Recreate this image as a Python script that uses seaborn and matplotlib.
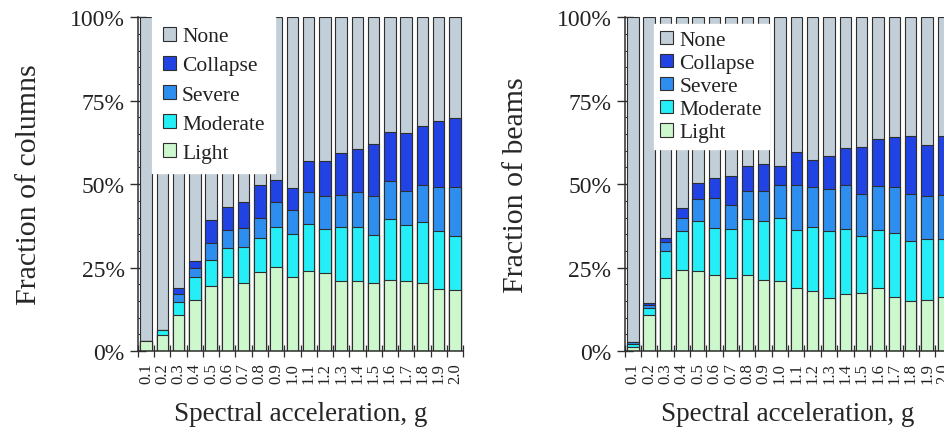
import numpy as np
import matplotlib
matplotlib.use('Agg')
import matplotlib.pyplot as plt
import seaborn as sns
from matplotlib.patches import Patch
from matplotlib.ticker import PercentFormatter, MultipleLocator, FixedLocator

# Spectral acceleration bins (g)
sa_labels = ['0.1', '0.2', '0.3', '0.4', '0.5', '0.6', '0.7', '0.8', '0.9', '1.0',
             '1.1', '1.2', '1.3', '1.4', '1.5', '1.6', '1.7', '1.8', '1.9', '2.0']

# Damage state shares, percent of elements (None = the remainder)
light_cols = [3.0, 4.8, 10.9, 15.4, 19.5, 22.3, 20.5, 23.8, 25.1, 22.3,
              24.0, 23.5, 21.1, 21.1, 20.3, 21.4, 21.1, 20.3, 18.7, 18.4]
moderate_cols = [0.0, 1.5, 3.9, 6.7, 7.9, 8.5, 10.7, 10.2, 12.2, 12.9,
                 14.1, 13.1, 16.0, 16.0, 14.4, 18.1, 16.7, 18.5, 17.4, 16.2]
severe_cols = [0.0, 0.0, 2.3, 2.8, 5.0, 5.4, 5.7, 5.9, 7.2, 7.0,
               9.4, 9.7, 9.5, 10.4, 11.6, 11.3, 10.1, 10.8, 12.9, 14.4]
collapse_cols = [0.0, 0.0, 1.7, 2.2, 6.9, 6.9, 7.6, 9.7, 6.6, 6.6,
                 9.5, 10.6, 12.6, 13.0, 15.7, 14.7, 17.5, 17.8, 19.8, 20.9]

light_beams = [1.3, 10.8, 21.9, 24.4, 24.0, 22.7, 21.9, 22.8, 21.4, 20.9,
               19.0, 18.0, 15.8, 17.1, 17.5, 19.0, 16.2, 15.1, 15.3, 16.3]
moderate_beams = [0.9, 2.0, 8.1, 11.6, 15.0, 14.1, 14.7, 16.9, 17.7, 19.1,
                  17.4, 19.3, 20.3, 19.5, 17.0, 17.3, 19.2, 18.0, 18.3, 17.2]
severe_beams = [0.6, 0.9, 2.8, 3.8, 6.6, 8.9, 7.1, 8.2, 8.8, 9.7,
                13.2, 11.9, 12.3, 13.0, 12.6, 13.0, 13.8, 13.9, 12.8, 13.2]
collapse_beams = [0.0, 0.8, 1.2, 2.9, 4.6, 6.0, 8.7, 7.6, 8.0, 5.6,
                  10.1, 8.1, 10.1, 11.1, 14.0, 14.1, 14.9, 17.3, 15.4, 17.7]

states = ['None', 'Collapse', 'Severe', 'Moderate', 'Light']
colors = {'None': '#c2ced8', 'Collapse': '#2243e3', 'Severe': '#2e8ef0',
          'Moderate': '#25eef6', 'Light': '#cdf7cc'}
edge = '#2e2e2e'

sns.set_style('ticks')
plt.rcParams['font.family'] = ['Liberation Serif', 'DejaVu Serif']
plt.rcParams['text.color'] = '#222222'


def stacked(ax, light, moderate, severe, collapse, ylabel, legend_anchor, spacing, pad):
    parts = np.array([light, moderate, severe, collapse]) / 100.0
    cum = np.cumsum(parts, axis=0)
    # tallest first, each cumulative level drawn over the previous one
    tops = {'None': np.ones(len(sa_labels)), 'Collapse': cum[3],
            'Severe': cum[2], 'Moderate': cum[1], 'Light': cum[0]}
    for s in states:
        sns.barplot(x=sa_labels, y=tops[s], color=colors[s], width=0.7,
                    edgecolor=edge, linewidth=0.8, saturation=1, ax=ax)

    ax.set_xlim(-0.5, len(sa_labels) - 0.5)
    ax.set_ylim(0, 1)
    ax.yaxis.set_major_locator(MultipleLocator(0.25))
    ax.yaxis.set_minor_locator(MultipleLocator(0.05))
    ax.yaxis.set_major_formatter(PercentFormatter(1.0, decimals=0))
    ax.tick_params(axis='y', which='major', direction='inout', length=12,
                   width=1, labelsize=17, colors=edge, labelcolor='#222222')
    ax.tick_params(axis='y', which='minor', direction='in', length=5,
                   width=0.8, colors=edge)
    # labels under the bars, tick marks between the bars
    ax.xaxis.set_minor_locator(FixedLocator(np.arange(-0.5, len(sa_labels), 1.0)))
    ax.tick_params(axis='x', which='major', length=0, labelsize=12,
                   labelrotation=90, pad=8, labelcolor='#222222')
    ax.tick_params(axis='x', which='minor', direction='inout', length=9,
                   width=0.9, colors=edge)
    for sp in ['top', 'right']:
        ax.spines[sp].set_visible(False)
    for sp in ['left', 'bottom']:
        ax.spines[sp].set_color(edge)
        ax.spines[sp].set_linewidth(1.1)

    ax.set_xlabel('Spectral acceleration, g', fontsize=19.5, labelpad=13)
    ax.set_ylabel(ylabel, fontsize=21.5, labelpad=20)

    handles = [Patch(facecolor=colors[s], edgecolor=edge, linewidth=0.8) for s in states]
    leg = ax.legend(handles, states, loc='upper left', bbox_to_anchor=legend_anchor,
                    borderaxespad=0, fontsize=15.5, frameon=True, fancybox=False,
                    framealpha=1, edgecolor='white', handlelength=0.6,
                    handleheight=0.6, handletextpad=0.3, labelspacing=spacing,
                    borderpad=pad)
    leg.set_zorder(5)


fig = plt.figure(figsize=(9.45, 4.31), dpi=100)
ax1 = fig.add_axes([0.146, 0.183, 0.344, 0.775])
ax2 = fig.add_axes([0.661, 0.183, 0.346, 0.775])

stacked(ax1, light_cols, moderate_cols, severe_cols, collapse_cols,
        'Fraction of columns', (0.043, 1.003), 0.45, 0.5)
stacked(ax2, light_beams, moderate_beams, severe_beams, collapse_beams,
        'Fraction of beams', (0.089, 0.979), 0.17, 0.3)

fig.savefig('out.png', dpi=100)
